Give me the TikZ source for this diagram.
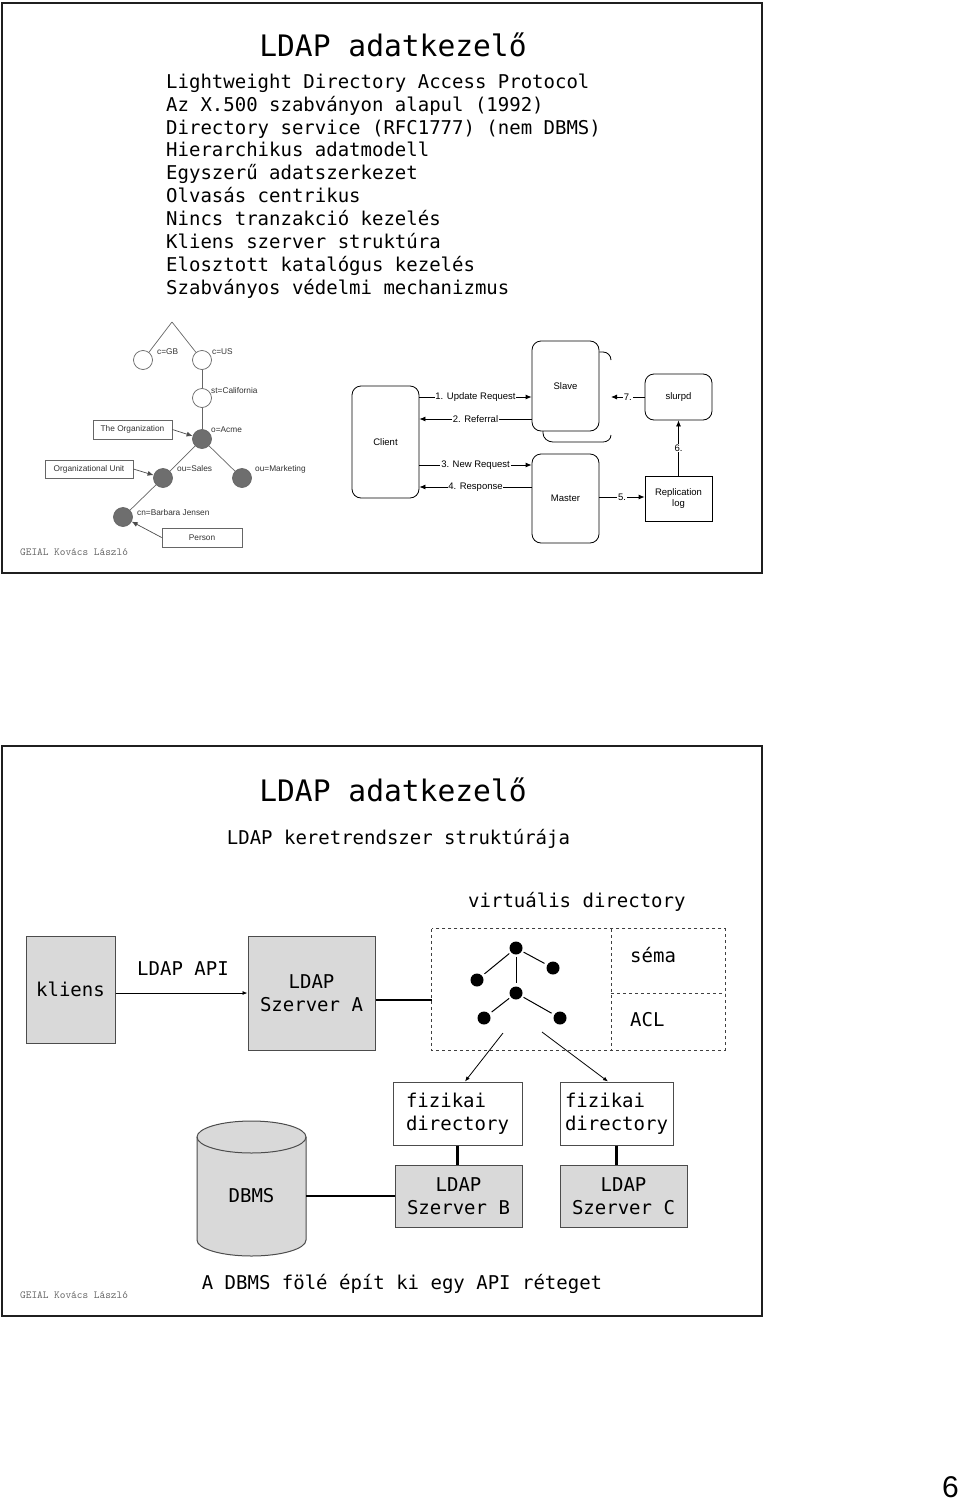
\documentclass[tikz,border=0pt]{standalone}
\usepackage{fontspec}
\setmainfont{DejaVu Sans Mono}
\newfontfamily\arialf{Liberation Sans}
\usetikzlibrary{arrows.meta,calc}
\definecolor{boxgray}{HTML}{D9D9D9}
\definecolor{nodegray}{HTML}{6E6E6E}
\begin{document}
\begin{tikzpicture}[x=1pt,y=-1pt,
  frame/.style={draw=black!88,line width=2.5pt},
  body/.style={anchor=base west,font=\fontsize{19}{22.8}\selectfont,inner sep=0pt},
  titletext/.style={anchor=base,font=\fontsize{29.6}{34}\selectfont,inner sep=0pt},
  foot/.style={anchor=base west,font=\ttfamily\fontsize{10.8}{12}\selectfont,text=black!60,inner sep=0pt},
  tlabel/.style={anchor=base west,font=\arialf\fontsize{8.3}{10}\selectfont,text=black!80,inner sep=0pt},
  wcirc/.style={circle,draw=black!60,fill=white,minimum size=19pt,inner sep=0pt,line width=0.7pt},
  gcirc/.style={circle,draw=black!60,fill=nodegray,minimum size=19pt,inner sep=0pt,line width=0.7pt},
  tbox/.style={draw=black!60,fill=white,font=\arialf\fontsize{8.3}{10}\selectfont,text=black!80,inner sep=0pt,line width=0.7pt},
  tline/.style={draw=black!60,line width=0.7pt},
  tarrow/.style={draw=black!70,line width=0.7pt,-{Latex[length=6pt,width=5pt]}},
  csbox/.style={draw=black,rounded corners=9pt,line width=0.8pt,font=\arialf\fontsize{9.5}{11.5}\selectfont,inner sep=0pt,align=center},
  csrect/.style={draw=black,line width=0.8pt,font=\arialf\fontsize{9.5}{11.5}\selectfont,inner sep=0pt,align=center},
  csarrow/.style={draw=black,line width=0.8pt,-{Latex[length=6pt,width=5pt]}},
  cslabel/.style={fill=white,font=\arialf\fontsize{9.5}{11}\selectfont,inner sep=0.8pt},
  gbox/.style={draw=black!70,fill=boxgray,line width=1pt,font=\fontsize{19}{22.8}\selectfont,align=center,inner sep=0pt},
  wbox/.style={draw=black!70,fill=white,line width=1pt,font=\fontsize{19}{22.8}\selectfont,align=left,inner sep=0pt},
  thick line/.style={draw=black,line width=2.6pt},
  vdash/.style={draw=black!75,dashed,line width=0.9pt},
  dot/.style={circle,fill=black,minimum size=13pt,inner sep=0pt},
  dline/.style={draw=black,line width=1pt,shorten <=2pt,shorten >=3pt},
  thinarrow/.style={draw=black,line width=0.8pt,-{Latex[length=5pt,width=4pt]}}
]
\useasboundingbox (0,0) rectangle (960,1501);
\fill[white] (0,0) rectangle (960,1501);

% ================= FRAME 1 =================
\draw[frame] (2,3) rectangle (762,573);
\node[titletext] (t1) at (393,57) {LDAP adatkezelő};
\node[body] (l1) at (166,88.3) {Lightweight Directory Access Protocol};
\node[body] (l2) at (166,111.2) {Az X.500 szabványon alapul (1992)};
\node[body] (l3) at (166,134.1) {Directory service (RFC1777) (nem DBMS)};
\node[body] (l4) at (166,157.0) {Hierarchikus adatmodell};
\node[body] (l5) at (166,179.9) {Egyszerű adatszerkezet};
\node[body] (l6) at (166,202.8) {Olvasás centrikus};
\node[body] (l7) at (166,225.7) {Nincs tranzakció kezelés};
\node[body] (l8) at (166,248.6) {Kliens szerver struktúra};
\node[body] (l9) at (166,271.5) {Elosztott katalógus kezelés};
\node[body] (l10) at (166,294.4) {Szabványos védelmi mechanizmus};
\node[foot] (f1) at (20,555) {GEIAL Kovács László};

% --- directory tree ---
\coordinate (apex) at (172,322);
\node[wcirc] (gb) at (143,360) {};
\node[wcirc] (us) at (202,360) {};
\node[wcirc] (st) at (202,398) {};
\node[gcirc] (acme) at (202,439) {};
\node[gcirc] (sales) at (163,478) {};
\node[gcirc] (mkt) at (242,478) {};
\node[gcirc] (bj) at (123,517) {};
\draw[tline] (apex) -- (gb);
\draw[tline] (apex) -- (us);
\draw[tline] (us) -- (st);
\draw[tline] (st) -- (acme);
\draw[tline] (acme) -- (sales);
\draw[tline] (acme) -- (mkt);
\draw[tline] (sales) -- (bj);
\node[tlabel] (lgb) at (157,354) {c=GB};
\node[tlabel] (lus) at (212,354) {c=US};
\node[tlabel] (lst) at (211,393) {st=California};
\node[tlabel] (lacme) at (211,432) {o=Acme};
\node[tlabel] (lsales) at (177,471) {ou=Sales};
\node[tlabel] (lmkt) at (255,471) {ou=Marketing};
\node[tlabel] (lbj) at (137,515) {cn=Barbara Jensen};
\node[tbox,minimum width=79pt,minimum height=19pt] (org) at (132.5,429.5) {The Organization};
\node[tbox,minimum width=88pt,minimum height=18pt] (oun) at (89,469) {Organizational Unit};
\node[tbox,minimum width=80pt,minimum height=19pt] (person) at (202,537.5) {Person};
\draw[tarrow] (org.east) -- (acme);
\draw[tarrow] (oun.east) -- (sales);
\draw[tarrow] (person.west) -- (bj);

% --- client / server replication ---
\node[csbox,minimum width=67pt,minimum height=112pt] (client) at (385.5,442) {Client};
\node[csbox,fill=white,minimum width=67pt,minimum height=90pt] (slave) at (565.5,386) {Slave};
\draw[black,line width=0.8pt] (slave.north east |- 0,352) -- (603,352) to[out=0,in=90] (611,360);
\draw[black,line width=0.8pt] (543,431) -- (543,433) to[out=-90,in=180] (553,442) -- (603,442) to[out=0,in=-90] (611,435);
\coordinate (slaveback) at (611,397);
\node[csbox,minimum width=67pt,minimum height=89pt] (master) at (565.5,498.5) {Master};
\node[csbox,minimum width=67pt,minimum height=46pt] (slurpd) at (678.5,397) {slurpd};
\node[csrect,minimum width=67pt,minimum height=45pt] (replog) at (678.5,498.5) {Replication\\log};
\coordinate (r1) at (0,397);
\coordinate (r2) at (0,419);
\coordinate (r3) at (0,465);
\coordinate (r4) at (0,487);
\coordinate (r5) at (0,497);
\draw[csarrow] (client.east |- r1) -- node[cslabel] {1. Update Request} (slave.west |- r1);
\draw[csarrow] (slave.west |- r2) -- node[cslabel] {2. Referral} (client.east |- r2);
\draw[csarrow] (client.east |- r3) -- node[cslabel] {3. New Request} (master.west |- r3);
\draw[csarrow] (master.west |- r4) -- node[cslabel] {4. Response} (client.east |- r4);
\draw[csarrow] (master.east |- r5) -- node[cslabel] {5.} (replog.west |- r5);
\draw[csarrow] (replog.north) -- node[cslabel] {6.} (slurpd.south);
\draw[csarrow] (slurpd.west) -- node[cslabel] {7.} (slaveback);

% ================= FRAME 2 =================
\draw[frame] (2,746) rectangle (762,1316);
\node[titletext] (t2) at (393,801) {LDAP adatkezelő};
\node[body,anchor=base] (sub) at (398.5,844) {LDAP keretrendszer struktúrája};
\node[body] (virt) at (468,907) {virtuális directory};

\node[gbox,minimum width=89pt,minimum height=107pt] (kliens) at (70.5,989.5) {kliens};
\node[gbox,minimum width=127pt,minimum height=114pt] (szA) at (311.5,993) {LDAP\\Szerver A};
\coordinate (ya) at (0,993);
\draw[thinarrow] (kliens.east |- ya) -- (szA.west |- ya);
\node[body] (api) at (137,975) {LDAP API};

\node[draw=none,minimum width=293pt,minimum height=121pt,inner sep=0pt] (vbox) at (578.5,989.5) {};
\draw[vdash] (vbox.north west) rectangle (vbox.south east);
\draw[vdash] (611,929) -- (611,1050);
\draw[vdash] (611,993) -- (725,993);
\node[body] (sema) at (630,962) {séma};
\node[body] (acl) at (630,1026) {ACL};
\coordinate (yb) at (0,1000);
\draw[thick line] (szA.east |- yb) -- (vbox.west |- yb);

\node[dot] (d1) at (516,948) {};
\node[dot] (d2) at (477,980) {};
\node[dot] (d3) at (553,968) {};
\node[dot] (d4) at (516,993) {};
\node[dot] (d5) at (484,1018) {};
\node[dot] (d6) at (560,1018) {};
\draw[dline] (d1) -- (d2);
\draw[dline] (d1) -- (d3);
\draw[dline] (d1) -- (d4);
\draw[dline] (d4) -- (d5);
\draw[dline] (d4) -- (d6);

\node[wbox,minimum width=129pt,minimum height=63pt] (fiz1) at (457.5,1113.5) {fizikai\\directory};
\node[wbox,minimum width=113pt,minimum height=63pt] (fiz2) at (616.5,1113.5) {fizikai\\directory};
\coordinate (s1) at (503,1033);
\coordinate (s2) at (542,1032);
\draw[thinarrow] (s1) -- ($(fiz1.north)+(7.5,0)$);
\draw[thinarrow] (s2) -- ($(fiz2.north)+(-8.5,0)$);

\node[gbox,minimum width=127pt,minimum height=62pt] (szB) at (458.5,1196) {LDAP\\Szerver B};
\node[gbox,minimum width=127pt,minimum height=62pt] (szC) at (623.5,1196) {LDAP\\Szerver C};
\draw[thick line] (fiz1.south) -- (fiz1.south |- szB.north);
\draw[thick line] (fiz2.south) -- (fiz2.south |- szC.north);

% DBMS cylinder
\draw[draw=black!70,fill=boxgray,line width=1pt] (197,1137) -- (197,1240)
  arc[start angle=180,end angle=360,x radius=54.5pt,y radius=16pt] -- (306,1137)
  arc[start angle=0,end angle=180,x radius=54.5pt,y radius=16pt] -- cycle;
\draw[draw=black!70,line width=1pt] (197,1137) arc[start angle=180,end angle=360,x radius=54.5pt,y radius=16pt];
\node[inner sep=0pt,minimum width=109pt,minimum height=90pt,font=\fontsize{19}{22.8}\selectfont] (dbms) at (251.5,1196) {DBMS};
\draw[thick line] (dbms.east) -- (szB.west);

\node[body,anchor=base] (bottom) at (402,1289) {A DBMS fölé épít ki egy API réteget};
\node[foot] (f2) at (20,1298) {GEIAL Kovács László};

\node[anchor=base east,inner sep=0pt,font=\arialf\fontsize{30}{32}\selectfont] (page) at (959,1497) {6};
\end{tikzpicture}
\end{document}
